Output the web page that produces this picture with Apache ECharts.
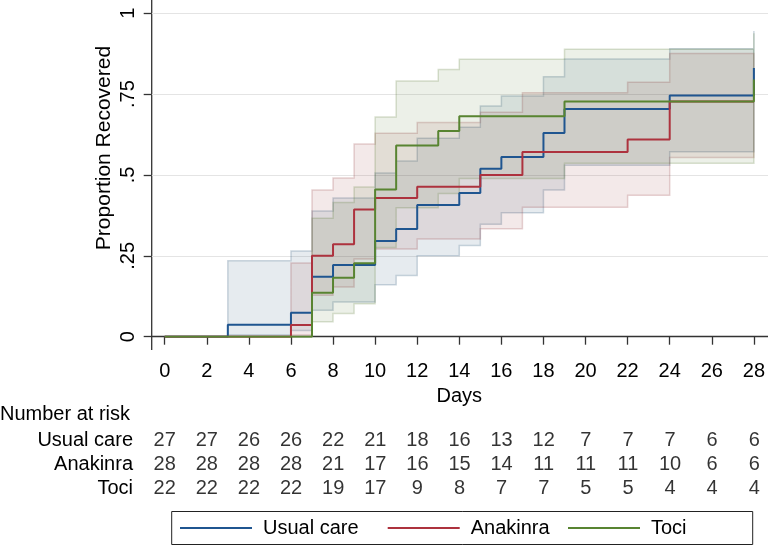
<!DOCTYPE html>
<html>
<head>
<meta charset="utf-8">
<script src="https://cdn.jsdelivr.net/npm/echarts@6/dist/echarts.min.js"></script>
<style>
    html, body { margin: 0; padding: 0; background: #fff; }
    #chart { width: 768px; height: 551px; }
</style>
</head>
<body>
<div id="chart"></div>
<script>
// Cumulative recovery (Kaplan-Meier failure) with 95% CI bands
const seriesNames = ['Usual care', 'Anakinra', 'Toci'];

// Usual care
const usualDays = [0, 3, 6, 7, 8, 10, 11, 12, 14, 15, 16, 18, 19, 24, 28];
const usualRecovered = [0, 0.037, 0.074, 0.185, 0.222, 0.296, 0.333, 0.407, 0.444, 0.519, 0.556, 0.630, 0.704, 0.746, 0.831];
const usualBandDays = [3, 6, 7, 8, 10, 11, 12, 14, 15, 16, 18, 19, 24, 28];
const usualUpper = [0.235, 0.265, 0.389, 0.429, 0.506, 0.543, 0.614, 0.648, 0.713, 0.744, 0.804, 0.859, 0.890, 0.945];
const usualLower = [0.005, 0.019, 0.082, 0.107, 0.161, 0.189, 0.250, 0.282, 0.348, 0.383, 0.454, 0.530, 0.572, 0.664];

// Anakinra
const anakinraDays = [0, 6, 7, 8, 9, 10, 12, 15, 17, 22, 24, 28];
const anakinraRecovered = [0, 0.036, 0.250, 0.286, 0.393, 0.429, 0.464, 0.500, 0.571, 0.610, 0.727, 0.727];
const anakinraBandDays = [6, 7, 8, 9, 10, 12, 15, 17, 22, 24, 28];
const anakinraUpper = [0.228, 0.454, 0.491, 0.596, 0.629, 0.662, 0.694, 0.754, 0.787, 0.876, 0.876];
const anakinraLower = [0.005, 0.128, 0.154, 0.240, 0.271, 0.302, 0.334, 0.400, 0.437, 0.554, 0.554];

// Toci
const tociDays = [0, 7, 8, 9, 10, 11, 13, 14, 19, 28];
const tociRecovered = [0, 0.136, 0.182, 0.227, 0.455, 0.591, 0.636, 0.682, 0.727, 0.795];
const tociBandDays = [7, 8, 9, 10, 11, 13, 14, 19, 28];
const tociUpper = [0.366, 0.415, 0.463, 0.679, 0.791, 0.826, 0.858, 0.889, 0.938];
const tociLower = [0.046, 0.072, 0.102, 0.276, 0.399, 0.443, 0.489, 0.536, 0.597];

// Number at risk table
const riskDays = [0, 2, 4, 6, 8, 10, 12, 14, 16, 18, 20, 22, 24, 26, 28];
const usualAtRisk = [27, 27, 26, 26, 22, 21, 18, 16, 13, 12, 7, 7, 7, 6, 6];
const anakinraAtRisk = [28, 28, 28, 28, 21, 17, 16, 15, 14, 11, 11, 11, 10, 6, 6];
const tociAtRisk = [22, 22, 22, 22, 19, 17, 9, 8, 7, 7, 5, 5, 4, 4, 4];

const yTickLabels = ['0', '.25', '.5', '.75', '1'];

const lineColors = ['#1f5590', '#ad323e', '#588431'];
const bandFills = ['rgba(26,71,111,0.11)', 'rgba(144,53,59,0.11)', 'rgba(85,117,47,0.11)'];
const bandEdges = ['rgba(26,71,111,0.22)', 'rgba(144,53,59,0.22)', 'rgba(85,117,47,0.22)'];

const FONT = "'Liberation Sans', Arial, sans-serif";
const FS = 20;

function zip(xs, ys) {
    return xs.map((x, i) => [x, ys[i]]);
}

// step-shaped CI band drawn as a single polygon
function bandSeries(name, days, lower, upper, idx) {
    return {
        type: 'custom',
        name: name + ' CI',
        xAxisIndex: 1,
        yAxisIndex: 1,
        silent: true,
        z: 1,
        data: [[0, 0]],
        renderItem: (params, api) => {
            const pts = [];
            const last = days.length - 1;
            for (let i = 0; i <= last; i++) {
                const next = i < last ? days[i + 1] : days[i];
                pts.push(api.coord([days[i], upper[i]]), api.coord([next, upper[i]]));
            }
            for (let i = last; i >= 0; i--) {
                const next = i < last ? days[i + 1] : days[i];
                pts.push(api.coord([next, lower[i]]), api.coord([days[i], lower[i]]));
            }
            return {
                type: 'polygon',
                shape: { points: pts },
                style: { fill: bandFills[idx], stroke: bandEdges[idx], lineWidth: 1.5 }
            };
        }
    };
}

function lineSeries(name, days, values, idx) {
    return {
        type: 'line',
        name: name,
        xAxisIndex: 1,
        yAxisIndex: 1,
        step: 'end',
        showSymbol: false,
        silent: true,
        z: 3,
        color: lineColors[idx],
        lineStyle: { width: 2, color: lineColors[idx] },
        data: zip(days, values)
    };
}

const riskRows = [usualAtRisk, anakinraAtRisk, tociAtRisk];
const riskData = [];
riskRows.forEach((row, r) => {
    row.forEach((n, i) => riskData.push([riskDays[i], seriesNames[r], n]));
});

const chart = echarts.init(document.getElementById('chart'));

const option = {
    animation: false,
    textStyle: { fontFamily: FONT, color: '#000' },
    grid: [
        { left: 151.7, right: 0, top: 13.3, height: 323.4 },
        { left: 164.7, width: 589.6, top: 13.3, height: 323.4 },
        { left: 164.7, width: 589.6, top: 428, height: 72 }
    ],
    xAxis: [
        {
            gridIndex: 0, type: 'value', min: 0, max: 1, offset: 12.6,
            axisLine: { show: true, lineStyle: { color: '#333', width: 1.3 } },
            axisTick: { show: false }, axisLabel: { show: false }, splitLine: { show: false }
        },
        {
            gridIndex: 1, type: 'value', min: 0, max: 28, interval: 2, offset: 12.6,
            axisLine: { show: false },
            axisTick: { show: true, length: 8, lineStyle: { color: '#333', width: 1.3 } },
            axisLabel: { margin: 12, fontSize: FS, color: '#000', fontFamily: FONT },
            splitLine: { show: false },
            name: 'Days', nameLocation: 'middle', nameGap: 35,
            nameTextStyle: { fontSize: FS, color: '#000', fontFamily: FONT }
        },
        { gridIndex: 2, type: 'value', min: 0, max: 28, show: false }
    ],
    yAxis: [
        {
            gridIndex: 0, type: 'value', min: 0, max: 1, interval: 0.25,
            axisLine: { show: false },
            axisTick: { show: true, length: 8, lineStyle: { color: '#333', width: 1.3 } },
            axisLabel: {
                rotate: 90, margin: 13, fontSize: FS, color: '#000', fontFamily: FONT,
                formatter: (v) => yTickLabels[Math.round(v * 4)]
            },
            splitLine: { show: true, lineStyle: { color: '#e4e4e4', width: 1.2 } }
        },
        { gridIndex: 1, type: 'value', min: 0, max: 1, show: false },
        {
            gridIndex: 2, type: 'category', data: seriesNames, inverse: true,
            axisLine: { show: false }, axisTick: { show: false },
            axisLabel: { interval: 0, margin: 31.7, fontSize: FS, color: '#000', fontFamily: FONT }
        }
    ],
    legend: seriesNames.map((name, i) => ({
        data: [name],
        left: [180, 387.7, 568][i],
        top: 518,
        padding: 0,
        itemWidth: 72,
        itemHeight: 2,
        icon: 'rect',
        selectedMode: false,
        textStyle: { fontSize: FS, color: '#000', fontFamily: FONT, padding: [0, 0, 0, 6] }
    })),
    graphic: [
        {
            type: 'line', silent: true,
            shape: { x1: 151.7, y1: 0, x2: 151.7, y2: 350 },
            style: { stroke: '#333', lineWidth: 1.3 }
        },
        {
            type: 'rect', silent: true,
            shape: { x: 171.7, y: 511.5, width: 581, height: 33 },
            style: { fill: 'none', stroke: '#222', lineWidth: 1 }
        },
        {
            type: 'text', x: 0, y: 414, silent: true,
            style: { text: 'Number at risk', fontSize: FS, fontFamily: FONT, fill: '#000', verticalAlign: 'middle' }
        },
        {
            type: 'text', x: 104, y: 148, rotation: Math.PI / 2, silent: true,
            style: { text: 'Proportion Recovered', fontSize: 21, fontFamily: FONT, fill: '#000', align: 'center', verticalAlign: 'middle' }
        }
    ],
    series: [
        bandSeries(seriesNames[0], usualBandDays, usualLower, usualUpper, 0),
        bandSeries(seriesNames[1], anakinraBandDays, anakinraLower, anakinraUpper, 1),
        bandSeries(seriesNames[2], tociBandDays, tociLower, tociUpper, 2),
        lineSeries(seriesNames[0], usualDays, usualRecovered, 0),
        lineSeries(seriesNames[1], anakinraDays, anakinraRecovered, 1),
        lineSeries(seriesNames[2], tociDays, tociRecovered, 2),
        {
            type: 'scatter',
            xAxisIndex: 2,
            yAxisIndex: 2,
            silent: true,
            symbolSize: 1,
            itemStyle: { color: 'transparent' },
            label: {
                show: true, position: 'inside', fontSize: FS, color: '#000', fontFamily: FONT,
                formatter: (p) => String(p.value[2])
            },
            data: riskData
        }
    ]
};

chart.setOption(option);
</script>
</body>
</html>
